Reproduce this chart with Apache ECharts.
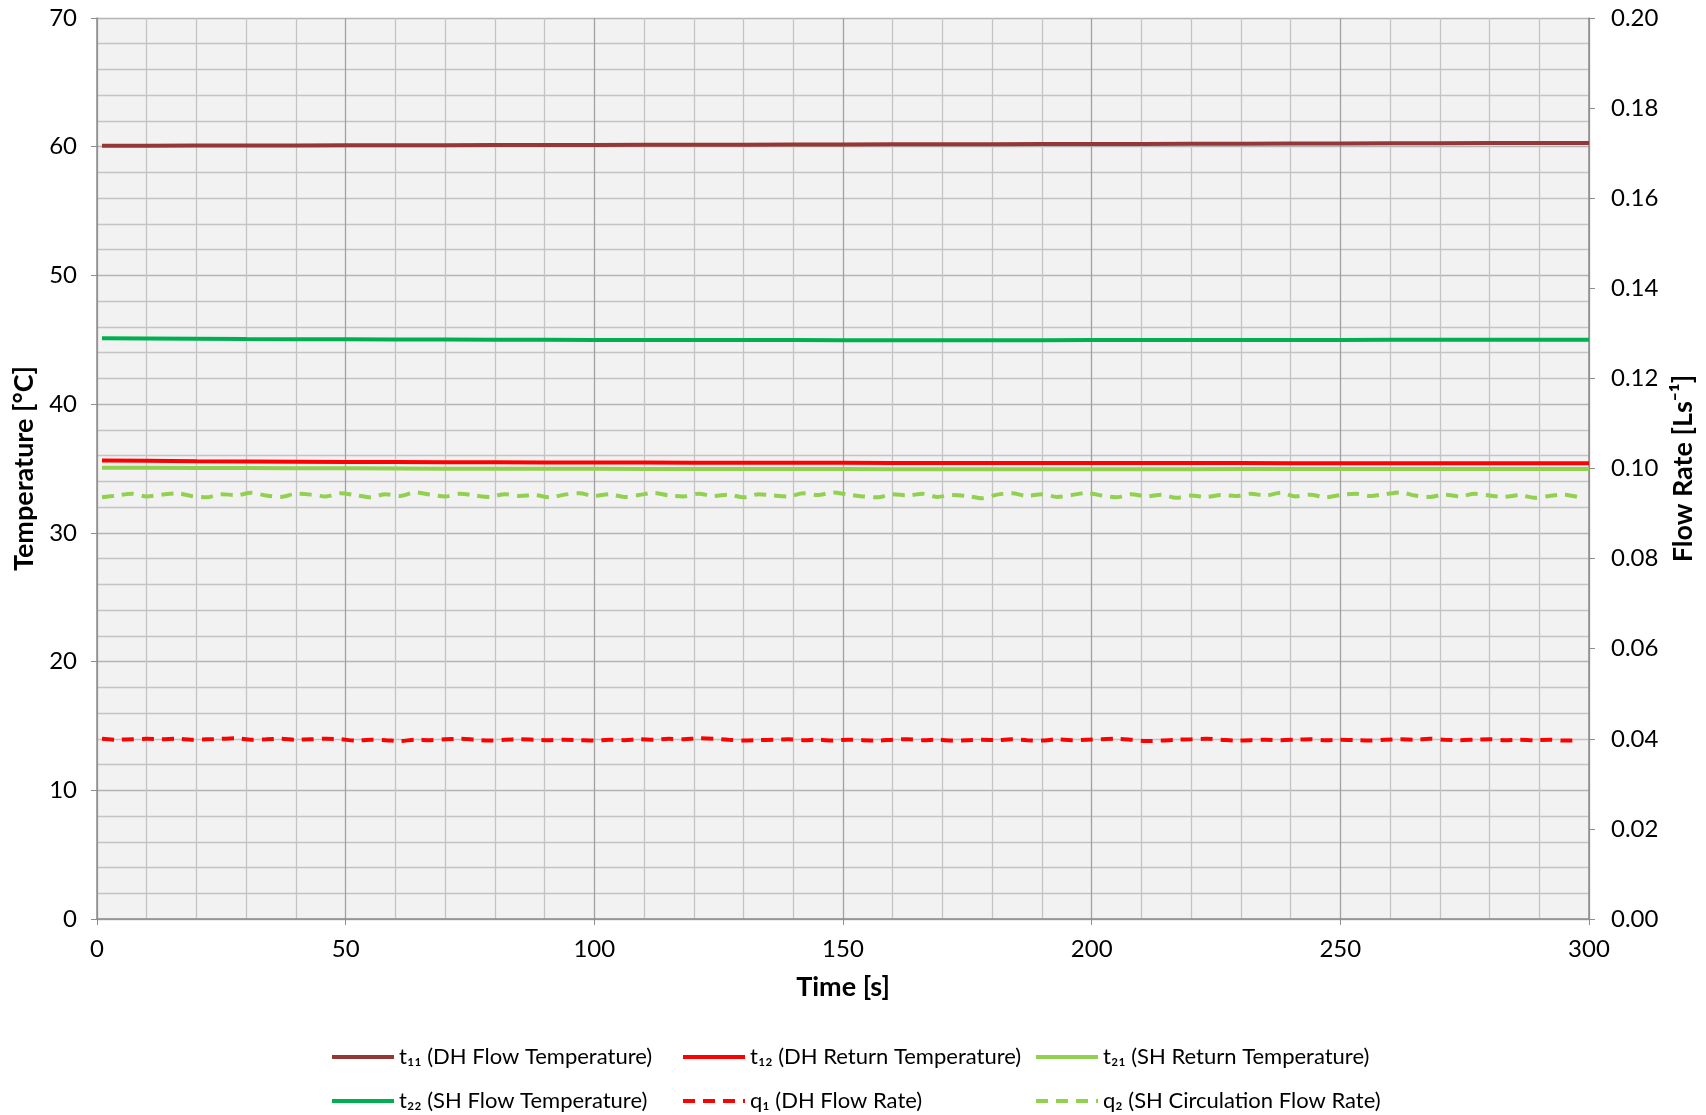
<!DOCTYPE html>
<html><head><meta charset="utf-8">
<script src="https://cdn.jsdelivr.net/npm/echarts@6/dist/echarts.min.js"></script>
<style>html,body{margin:0;padding:0;background:#fff}#c{width:1706px;height:1115px}</style>
</head><body><div id="c"></div>
<script>
// Time samples (s)
const tempTimes = [1,10,20,30,40,50,60,70,80,90,100,110,120,130,140,150,160,170,180,190,200,210,220,230,240,250,260,270,280,290,300];
const t11 = [60.08,60.08,60.09,60.09,60.10,60.11,60.11,60.12,60.13,60.13,60.14,60.15,60.16,60.16,60.17,60.18,60.19,60.19,60.20,60.21,60.22,60.22,60.23,60.24,60.25,60.25,60.26,60.27,60.28,60.28,60.29];
const t12 = [35.62,35.60,35.57,35.55,35.53,35.51,35.50,35.49,35.48,35.47,35.46,35.46,35.45,35.45,35.44,35.44,35.43,35.43,35.43,35.42,35.42,35.42,35.42,35.42,35.41,35.41,35.41,35.41,35.41,35.40,35.40];
const t21 = [35.06,35.05,35.04,35.03,35.02,35.01,35.00,34.99,34.99,34.98,34.98,34.97,34.97,34.96,34.96,34.96,34.95,34.95,34.95,34.95,34.95,34.95,34.95,34.96,34.96,34.96,34.96,34.97,34.97,34.97,34.97];
const t22 = [45.12,45.10,45.08,45.06,45.05,45.04,45.03,45.02,45.01,45.00,44.99,44.99,44.98,44.98,44.98,44.97,44.97,44.97,44.97,44.97,44.98,44.98,44.98,44.99,44.99,44.99,45.00,45.00,45.00,45.01,45.01];
const flowStep = 3; // flow samples every 3 s starting at t=1
const q1 = [0.0400,0.0398,0.0399,0.0400,0.0399,0.0400,0.0398,0.0399,0.0400,0.0401,
0.0398,0.0399,0.0400,0.0398,0.0399,0.0400,0.0399,0.0396,0.0398,0.0397,
0.0395,0.0398,0.0397,0.0399,0.0400,0.0398,0.0396,0.0398,0.0399,0.0398,
0.0397,0.0398,0.0397,0.0396,0.0398,0.0397,0.0399,0.0398,0.0400,0.0399,
0.0401,0.0400,0.0398,0.0396,0.0397,0.0398,0.0399,0.0397,0.0398,0.0396,
0.0398,0.0397,0.0396,0.0398,0.0399,0.0397,0.0398,0.0396,0.0397,0.0398,
0.0397,0.0399,0.0397,0.0396,0.0399,0.0397,0.0398,0.0399,0.0400,0.0398,
0.0395,0.0396,0.0398,0.0399,0.0400,0.0398,0.0396,0.0397,0.0398,0.0397,
0.0398,0.0399,0.0397,0.0398,0.0397,0.0396,0.0398,0.0399,0.0398,0.0400,
0.0398,0.0397,0.0398,0.0399,0.0397,0.0398,0.0397,0.0398,0.0396,0.0397];
const q2 = [0.0936,0.0940,0.0944,0.0938,0.0942,0.0945,0.0939,0.0936,0.0943,0.0941,
0.0946,0.0940,0.0937,0.0944,0.0942,0.0938,0.0945,0.0941,0.0936,0.0943,
0.0939,0.0947,0.0942,0.0938,0.0944,0.0940,0.0937,0.0943,0.0939,0.0941,
0.0936,0.0942,0.0945,0.0939,0.0943,0.0937,0.0941,0.0946,0.0940,0.0938,
0.0944,0.0939,0.0942,0.0936,0.0943,0.0940,0.0938,0.0945,0.0941,0.0947,
0.0942,0.0938,0.0936,0.0943,0.0940,0.0944,0.0937,0.0941,0.0939,0.0934,
0.0942,0.0945,0.0939,0.0943,0.0937,0.0941,0.0946,0.0940,0.0936,0.0943,
0.0938,0.0942,0.0935,0.0940,0.0937,0.0941,0.0939,0.0944,0.0940,0.0946,
0.0938,0.0942,0.0936,0.0941,0.0944,0.0939,0.0943,0.0947,0.0940,0.0937,
0.0942,0.0938,0.0944,0.0940,0.0937,0.0941,0.0935,0.0939,0.0942,0.0936];
const seriesNames = ['t\u2081\u2081 (DH Flow Temperature)','t\u2081\u2082 (DH Return Temperature)','t\u2082\u2081 (SH Return Temperature)','t\u2082\u2082 (SH Flow Temperature)','q\u2081 (DH Flow Rate)','q\u2082 (SH Circulation Flow Rate)'];

const pair = (xs, ys) => ys.map((v,i)=>[xs[i], v]);
const flowTimes = q1.map((_,i)=>1+i*flowStep);

const FONT = 'Lato, "Open Sans", sans-serif';
const chart = echarts.init(document.getElementById('c'));
const legendPos = [[325,1041],[676,1041],[1029,1041],[325,1085],[676,1085],[1029,1085]];
const legends = seriesNames.map((n,i)=>({
  data:[n], left:legendPos[i][0], top:legendPos[i][1], itemWidth:62, itemHeight:14, itemGap:6,
  itemStyle:{color:'rgba(0,0,0,0)', borderWidth:0, opacity:0},
  lineStyle:{width:4},
  textStyle:{fontFamily:FONT, fontSize:22, color:'#000'}, selectedMode:false
}));
const colors = ['#953735','#ff0000','#92d050','#00b050','#ff0000','#92d050'];
const base = {type:'line', showSymbol:false, symbol:'none'};
chart.setOption({
  animation:false,
  backgroundColor:'#fff',
  grid:{left:97, right:117, top:18, bottom:196, show:true, backgroundColor:'#f2f2f2', borderWidth:0},
  legend: legends,
  xAxis:{type:'value', min:0, max:300, interval:50,
    name:'Time [s]', nameLocation:'middle', nameGap:55,
    nameTextStyle:{fontFamily:FONT, fontSize:27, fontWeight:'bold', color:'#000'},
    axisLine:{lineStyle:{color:'#8c8c8c', width:1.5}},
    axisTick:{show:true, length:6, lineStyle:{color:'#8c8c8c'}},
    axisLabel:{fontFamily:FONT, fontSize:24, color:'#000', margin:18},
    splitLine:{show:true, lineStyle:{color:'#a0a0a0', width:1.3}},
    minorTick:{show:false, splitNumber:5},
    minorSplitLine:{show:true, lineStyle:{color:'#c4c4c4', width:1.3}}
  },
  yAxis:[
    {type:'value', min:0, max:70, interval:10,
     name:'Temperature [°C]', nameLocation:'middle', nameGap:53, nameRotate:90,
     nameTextStyle:{fontFamily:FONT, fontSize:27, fontWeight:'bold', color:'#000'},
     axisLine:{show:true, lineStyle:{color:'#8c8c8c', width:1.5}},
     axisTick:{show:true, length:6, lineStyle:{color:'#8c8c8c'}},
     axisLabel:{fontFamily:FONT, fontSize:24, color:'#000', margin:20},
     splitLine:{show:true, lineStyle:{color:'#b4b4b4', width:1.3}},
     minorTick:{show:false, splitNumber:5},
     minorSplitLine:{show:true, lineStyle:{color:'#c4c4c4', width:1.3}}
    },
    {type:'value', min:0, max:0.2, interval:0.02, position:'right',
     name:'Flow Rate [Ls\u207B\u00B9]', nameLocation:'middle', nameGap:80, nameRotate:90,
     nameTextStyle:{fontFamily:FONT, fontSize:27, fontWeight:'bold', color:'#000'},
     axisLine:{show:true, lineStyle:{color:'#8c8c8c', width:1.5}},
     axisTick:{show:true, length:6, lineStyle:{color:'#8c8c8c'}},
     axisLabel:{fontFamily:FONT, fontSize:24, color:'#000', margin:22, formatter:v=>v.toFixed(2)},
     splitLine:{show:false}
    }
  ],
  series:[
    Object.assign({}, base, {name:seriesNames[0], yAxisIndex:0, data:pair(tempTimes,t11), lineStyle:{color:colors[0], width:4}, itemStyle:{color:colors[0]}}),
    Object.assign({}, base, {name:seriesNames[1], yAxisIndex:0, data:pair(tempTimes,t12), lineStyle:{color:colors[1], width:4}, itemStyle:{color:colors[1]}}),
    Object.assign({}, base, {name:seriesNames[2], yAxisIndex:0, data:pair(tempTimes,t21), lineStyle:{color:colors[2], width:4}, itemStyle:{color:colors[2]}}),
    Object.assign({}, base, {name:seriesNames[3], yAxisIndex:0, data:pair(tempTimes,t22), lineStyle:{color:colors[3], width:4}, itemStyle:{color:colors[3]}}),
    Object.assign({}, base, {name:seriesNames[4], yAxisIndex:1, data:pair(flowTimes,q1), smooth:0.3, lineStyle:{color:colors[4], width:4, type:[12,8]}, itemStyle:{color:colors[4]}}),
    Object.assign({}, base, {name:seriesNames[5], yAxisIndex:1, data:pair(flowTimes,q2), smooth:0.3, lineStyle:{color:colors[5], width:4, type:[12,8]}, itemStyle:{color:colors[5]}})
  ]
});
</script></body></html>
